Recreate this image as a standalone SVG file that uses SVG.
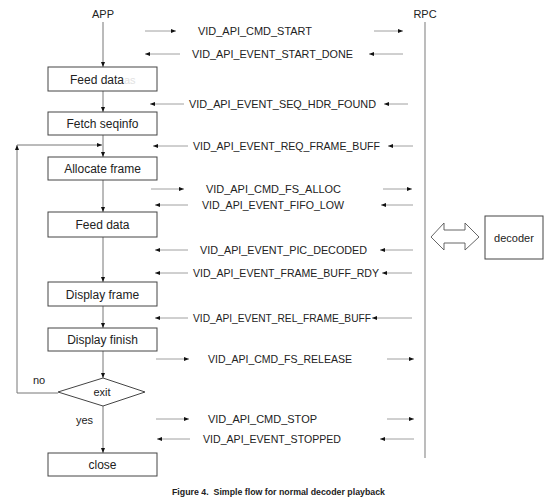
<svg xmlns="http://www.w3.org/2000/svg" width="554" height="501" viewBox="0 0 554 501">
<style>
text{font-family:"Liberation Sans",Arial,sans-serif;fill:#222}
.lbl{font-size:10.8px}
.bt{font-size:12px;text-anchor:middle}
.box{fill:#fff;stroke:#444;stroke-width:1}
.ln{stroke:#777;stroke-width:1;fill:none}
.msg{stroke:#888;stroke-width:0.8;fill:none}
</style>
<defs>
<marker id="ah" markerWidth="5" markerHeight="4" refX="5" refY="2" orient="auto" markerUnits="userSpaceOnUse">
<path d="M0,0 L5,2 L0,4 Z" fill="#111"/>
</marker>
</defs>
<rect width="554" height="501" fill="#fff"/>
<g id="titles">
<text x="103" y="18" class="bt" style="font-size:11px">APP</text>
<text x="425" y="18" class="bt" style="font-size:11px">RPC</text>
</g>
<g id="rpc-line"><line x1="425" y1="22" x2="425" y2="458" stroke="#999" stroke-width="1.3"/></g>
<g id="connectors">
<line class="ln" x1="103" y1="22" x2="103" y2="67" marker-end="url(#ah)"/>
<line class="ln" x1="103" y1="91" x2="103" y2="112" marker-end="url(#ah)"/>
<line class="ln" x1="103" y1="135" x2="103" y2="157" marker-end="url(#ah)"/>
<line class="ln" x1="103" y1="180" x2="103" y2="212" marker-end="url(#ah)"/>
<line class="ln" x1="103" y1="237" x2="103" y2="282" marker-end="url(#ah)"/>
<line class="ln" x1="103" y1="306" x2="103" y2="328" marker-end="url(#ah)"/>
<line class="ln" x1="103" y1="351" x2="103" y2="378" marker-end="url(#ah)"/>
<line class="ln" x1="103" y1="406" x2="103" y2="453" marker-end="url(#ah)"/>
<path class="ln" d="M58,393 H17 V145" marker-end="url(#ah)"/>
<line class="ln" x1="17" y1="145" x2="102" y2="145" marker-end="url(#ah)"/>
</g>
<g id="n-feed1"><rect class="box" x="48" y="67" width="109" height="24"/><text x="70" y="83.5" style="font-size:12px">Feed data</text><text x="124" y="83.5" style="font-size:11px;fill:#e2e2e2">as</text></g>
<g id="n-fetch"><rect class="box" x="48" y="112" width="109" height="23"/><text x="102.5" y="128" class="bt">Fetch seqinfo</text></g>
<g id="n-alloc"><rect class="box" x="48" y="157" width="109" height="23"/><text x="102.5" y="173" class="bt">Allocate frame</text></g>
<g id="n-feed2"><rect class="box" x="48" y="212" width="109" height="25"/><text x="102.5" y="229" class="bt">Feed data</text></g>
<g id="n-dispframe"><rect class="box" x="48" y="282" width="109" height="24"/><text x="102.5" y="298.5" class="bt">Display frame</text></g>
<g id="n-dispfinish"><rect class="box" x="48" y="328" width="109" height="23"/><text x="102.5" y="344" class="bt">Display finish</text></g>
<g id="n-exit"><path class="box" d="M103,378 L145,392 L103,406 L58,392 Z"/><text x="102" y="396" class="bt" style="font-size:11px">exit</text></g>
<g id="n-close"><rect class="box" x="48" y="453" width="109" height="23"/><text x="102.5" y="469" class="bt">close</text></g>
<g id="loop-labels">
<text x="33" y="384" style="font-size:11px">no</text>
<text x="76" y="424" style="font-size:11px">yes</text>
</g>
<g id="messages">
<line class="msg" x1="145" y1="31" x2="176" y2="31" marker-end="url(#ah)"/>
<text class="lbl" x="198" y="35" textLength="114" lengthAdjust="spacingAndGlyphs">VID_API_CMD_START</text>
<line class="msg" x1="374" y1="31" x2="403" y2="31" marker-end="url(#ah)"/>

<line class="msg" x1="180" y1="54" x2="145" y2="54" marker-end="url(#ah)"/>
<text class="lbl" x="192" y="58" textLength="161" lengthAdjust="spacingAndGlyphs">VID_API_EVENT_START_DONE</text>
<line class="msg" x1="403" y1="54" x2="369" y2="54" marker-end="url(#ah)"/>

<line class="msg" x1="184" y1="104" x2="150" y2="104" marker-end="url(#ah)"/>
<text class="lbl" x="189" y="108" textLength="187" lengthAdjust="spacingAndGlyphs">VID_API_EVENT_SEQ_HDR_FOUND</text>
<line class="msg" x1="408" y1="104" x2="384" y2="104" marker-end="url(#ah)"/>

<line class="msg" x1="188" y1="146" x2="153" y2="146" marker-end="url(#ah)"/>
<text class="lbl" x="193" y="150" textLength="187" lengthAdjust="spacingAndGlyphs">VID_API_EVENT_REQ_FRAME_BUFF</text>
<line class="msg" x1="413" y1="146" x2="388" y2="146" marker-end="url(#ah)"/>

<line class="msg" x1="151" y1="189" x2="184" y2="189" marker-end="url(#ah)"/>
<text class="lbl" x="206" y="193" textLength="135" lengthAdjust="spacingAndGlyphs">VID_API_CMD_FS_ALLOC</text>
<line class="msg" x1="383" y1="189" x2="412" y2="189" marker-end="url(#ah)"/>

<line class="msg" x1="188" y1="205" x2="155" y2="205" marker-end="url(#ah)"/>
<text class="lbl" x="202" y="209" textLength="142" lengthAdjust="spacingAndGlyphs">VID_API_EVENT_FIFO_LOW</text>
<line class="msg" x1="413" y1="205" x2="381" y2="205" marker-end="url(#ah)"/>

<line class="msg" x1="188" y1="250" x2="155" y2="250" marker-end="url(#ah)"/>
<text class="lbl" x="200" y="254" textLength="167" lengthAdjust="spacingAndGlyphs">VID_API_EVENT_PIC_DECODED</text>
<line class="msg" x1="413" y1="250" x2="380" y2="250" marker-end="url(#ah)"/>

<line class="msg" x1="188" y1="273" x2="155" y2="273" marker-end="url(#ah)"/>
<text class="lbl" x="193" y="277" textLength="186" lengthAdjust="spacingAndGlyphs">VID_API_EVENT_FRAME_BUFF_RDY</text>
<line class="msg" x1="412" y1="273" x2="382" y2="273" marker-end="url(#ah)"/>

<line class="msg" x1="188" y1="318" x2="155" y2="318" marker-end="url(#ah)"/>
<text class="lbl" x="193" y="322" textLength="178" lengthAdjust="spacingAndGlyphs">VID_API_EVENT_REL_FRAME_BUFF</text>
<line class="msg" x1="412" y1="318" x2="372" y2="318" marker-end="url(#ah)"/>

<line class="msg" x1="156" y1="359" x2="189" y2="359" marker-end="url(#ah)"/>
<text class="lbl" x="208" y="363" textLength="144" lengthAdjust="spacingAndGlyphs">VID_API_CMD_FS_RELEASE</text>
<line class="msg" x1="387" y1="359" x2="414" y2="359" marker-end="url(#ah)"/>

<line class="msg" x1="156" y1="419" x2="189" y2="419" marker-end="url(#ah)"/>
<text class="lbl" x="208" y="423" textLength="109" lengthAdjust="spacingAndGlyphs">VID_API_CMD_STOP</text>
<line class="msg" x1="387" y1="419" x2="414" y2="419" marker-end="url(#ah)"/>

<line class="msg" x1="190" y1="439" x2="157" y2="439" marker-end="url(#ah)"/>
<text class="lbl" x="203" y="443" textLength="138" lengthAdjust="spacingAndGlyphs">VID_API_EVENT_STOPPED</text>
<line class="msg" x1="414" y1="439" x2="380" y2="439" marker-end="url(#ah)"/>
</g>
<g id="double-arrow"><path d="M431,237 L444,223 L444,230 L465,230 L465,223 L479,237 L465,250 L465,243 L444,243 L444,250 Z" fill="#fff" stroke="#555" stroke-width="0.9"/></g>
<g id="n-decoder"><rect class="box" x="485" y="216" width="58" height="43"/><text x="514" y="241.5" class="bt" style="font-size:11px">decoder</text></g>
<g id="caption"><text x="172" y="495" textLength="213" lengthAdjust="spacingAndGlyphs" style="font-size:8.6px;font-weight:bold;white-space:pre">Figure 4.  Simple flow for normal decoder playback</text></g>
</svg>
